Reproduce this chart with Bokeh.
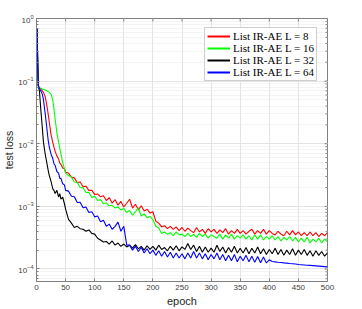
from bokeh.plotting import figure
from bokeh.models import Legend, LegendItem, FixedTicker, Range1d
from bokeh.embed import file_html
from bokeh.resources import INLINE

# ---- data -------------------------------------------------------------
epochs_early = [1, 2, 3, 5, 8, 10, 12, 15, 18, 20, 22, 25, 28, 30, 32, 35, 38, 40, 42, 45, 48, 50]
epochs_late = list(range(55, 505, 5))
epochs = epochs_early + epochs_late

labels = ["List IR-AE L = 8", "List IR-AE L = 16", "List IR-AE L = 32", "List IR-AE L = 64"]
colors = ["#ff0000", "#00ff00", "#000000", "#0000ff"]

loss_L8 = [0.7, 0.22, 0.085, 0.078, 0.074, 0.07, 0.066, 0.056, 0.04, 0.03, 0.022, 0.014, 0.0105,
           0.0088, 0.0076, 0.0064, 0.0057, 0.0049, 0.0047, 0.0041, 0.0040, 0.0035,
           3.4e-3, 2.9e-3, 2.85e-3, 2.4e-3, 2.45e-3, 2.05e-3, 2.1e-3, 1.8e-3, 1.8e-3, 1.55e-3,
           1.58e-3, 1.42e-3, 1.48e-3, 1.24e-3, 1.38e-3, 1.12e-3, 1.28e-3, 1.04e-3, 1.2e-3, 0.98e-3,
           1.12e-3, 1.3e-3, 0.94e-3, 1.08e-3, 0.88e-3, 1.02e-3, 0.84e-3, 0.9e-3, 0.78e-3, 0.82e-3,
           0.58e-3, 0.54e-3, 0.47e-3, 0.49e-3, 0.44e-3, 0.48e-3, 0.43e-3, 0.47e-3, 0.41e-3, 0.46e-3,
           0.40e-3, 0.45e-3, 0.41e-3, 0.38e-3, 0.46e-3, 0.39e-3, 0.43e-3, 0.37e-3, 0.44e-3, 0.39e-3,
           0.43e-3, 0.37e-3, 0.42e-3, 0.38e-3, 0.44e-3, 0.36e-3, 0.41e-3, 0.37e-3, 0.43e-3, 0.37e-3,
           0.41e-3, 0.36e-3, 0.40e-3, 0.43e-3, 0.36e-3, 0.41e-3, 0.37e-3, 0.43e-3, 0.36e-3, 0.41e-3,
           0.37e-3, 0.35e-3, 0.40e-3, 0.36e-3, 0.34e-3, 0.40e-3, 0.35e-3, 0.41e-3, 0.35e-3, 0.39e-3,
           0.34e-3, 0.38e-3, 0.34e-3, 0.39e-3, 0.34e-3, 0.38e-3, 0.33e-3, 0.37e-3, 0.34e-3, 0.38e-3]

loss_L16 = [0.7, 0.22, 0.085, 0.078, 0.076, 0.075, 0.074, 0.072, 0.07, 0.068, 0.066, 0.062, 0.05,
            0.036, 0.025, 0.015, 0.0105, 0.0085, 0.0068, 0.005, 0.004, 0.0034,
            3.1e-3, 2.95e-3, 2.45e-3, 2.4e-3, 2.0e-3, 1.98e-3, 1.66e-3, 1.68e-3, 1.38e-3, 1.45e-3,
            1.24e-3, 1.28e-3, 1.1e-3, 1.14e-3, 1.02e-3, 1.04e-3, 0.94e-3, 0.98e-3, 0.88e-3, 0.92e-3,
            0.8e-3, 0.86e-3, 0.72e-3, 0.82e-3, 0.95e-3, 0.7e-3, 0.76e-3, 0.66e-3, 0.69e-3, 0.61e-3,
            0.48e-3, 0.45e-3, 0.37e-3, 0.39e-3, 0.36e-3, 0.38e-3, 0.34e-3, 0.39e-3, 0.35e-3, 0.36e-3,
            0.33e-3, 0.37e-3, 0.33e-3, 0.36e-3, 0.32e-3, 0.37e-3, 0.33e-3, 0.36e-3, 0.31e-3, 0.35e-3,
            0.33e-3, 0.31e-3, 0.36e-3, 0.30e-3, 0.35e-3, 0.31e-3, 0.36e-3, 0.30e-3, 0.34e-3, 0.31e-3,
            0.35e-3, 0.30e-3, 0.34e-3, 0.29e-3, 0.35e-3, 0.30e-3, 0.35e-3, 0.29e-3, 0.33e-3, 0.30e-3,
            0.34e-3, 0.29e-3, 0.33e-3, 0.28e-3, 0.32e-3, 0.29e-3, 0.33e-3, 0.28e-3, 0.32e-3, 0.27e-3,
            0.31e-3, 0.27e-3, 0.32e-3, 0.26e-3, 0.30e-3, 0.27e-3, 0.31e-3, 0.26e-3, 0.30e-3, 0.27e-3]

loss_L32 = [0.7, 0.22, 0.085, 0.07, 0.03, 0.018, 0.0105, 0.0068, 0.0048, 0.0038, 0.0031, 0.0025,
            0.0019, 0.0018, 0.0016, 0.0018, 0.0014, 0.0016, 0.0013, 0.0014, 0.0011, 0.0009,
            6.2e-4, 5.4e-4, 4.6e-4, 4.8e-4, 4.4e-4, 4.3e-4, 4.0e-4, 4.2e-4, 3.7e-4, 3.6e-4,
            3.1e-4, 2.9e-4, 2.7e-4, 2.75e-4, 2.5e-4, 2.8e-4, 2.4e-4, 2.6e-4, 2.3e-4, 2.5e-4,
            2.25e-4, 2.4e-4, 2.15e-4, 2.45e-4, 2.1e-4, 2.3e-4, 2.0e-4, 2.35e-4, 2.05e-4, 2.3e-4,
            2.0e-4, 2.4e-4, 2.05e-4, 2.2e-4, 1.95e-4, 2.3e-4, 2.0e-4, 2.35e-4, 1.95e-4, 2.25e-4,
            2.05e-4, 2.55e-4, 2.05e-4, 2.4e-4, 1.9e-4, 2.3e-4, 1.85e-4, 2.25e-4, 1.85e-4, 2.15e-4,
            1.85e-4, 2.4e-4, 1.9e-4, 2.25e-4, 1.8e-4, 2.2e-4, 1.85e-4, 2.3e-4, 1.8e-4, 2.15e-4,
            1.8e-4, 2.2e-4, 1.75e-4, 2.15e-4, 1.8e-4, 2.25e-4, 1.75e-4, 2.1e-4, 1.7e-4, 2.05e-4,
            1.75e-4, 2.15e-4, 1.7e-4, 2.05e-4, 1.65e-4, 2.0e-4, 1.7e-4, 2.1e-4, 1.65e-4, 2.0e-4,
            1.7e-4, 2.05e-4, 1.65e-4, 1.95e-4, 1.6e-4, 1.95e-4, 1.65e-4, 1.9e-4, 1.6e-4, 1.8e-4]

loss_L64 = [0.7, 0.22, 0.085, 0.076, 0.068, 0.062, 0.05, 0.03, 0.017, 0.0115, 0.0088, 0.0068,
            0.0058, 0.0048, 0.0045, 0.0036, 0.0034, 0.0028, 0.0028, 0.0023, 0.0022, 0.0018,
            1.75e-3, 1.45e-3, 1.42e-3, 1.15e-3, 1.16e-3, 0.95e-3, 0.98e-3, 0.8e-3, 0.82e-3, 0.68e-3,
            0.7e-3, 0.57e-3, 0.6e-3, 0.48e-3, 0.52e-3, 0.43e-3, 0.48e-3, 0.56e-3, 0.4e-3, 0.48e-3,
            0.24e-3, 0.24e-3, 0.2e-3, 0.23e-3, 0.19e-3, 0.22e-3, 0.18e-3, 0.21e-3, 0.175e-3, 0.2e-3,
            0.165e-3, 0.195e-3, 0.16e-3, 0.19e-3, 0.155e-3, 0.185e-3, 0.15e-3, 0.18e-3, 0.15e-3, 0.175e-3,
            0.145e-3, 0.18e-3, 0.15e-3, 0.19e-3, 0.15e-3, 0.18e-3, 0.145e-3, 0.175e-3, 0.14e-3, 0.17e-3,
            0.145e-3, 0.18e-3, 0.14e-3, 0.17e-3, 0.135e-3, 0.165e-3, 0.135e-3, 0.17e-3, 0.13e-3, 0.16e-3,
            0.135e-3, 0.165e-3, 0.13e-3, 0.16e-3, 0.128e-3, 0.158e-3, 0.126e-3, 0.155e-3, 0.125e-3, 0.14e-3,
            0.132e-3, 0.13e-3, 0.128e-3, 0.127e-3, 0.125e-3, 0.124e-3, 0.122e-3, 0.121e-3, 0.12e-3, 0.118e-3,
            0.117e-3, 0.116e-3, 0.115e-3, 0.114e-3, 0.113e-3, 0.112e-3, 0.111e-3, 0.11e-3, 0.109e-3, 0.108e-3]

series = [loss_L8, loss_L16, loss_L32, loss_L64]

x_ticks = [0, 50, 100, 150, 200, 250, 300, 350, 400, 450, 500]
y_decades = [1e-4, 1e-3, 1e-2, 1e-1, 1e0]

# ---- figure -----------------------------------------------------------
AX = "#808080"
FONT = "Liberation Sans"
Y_LO, Y_HI = 10 ** -4.2, 1.0
W, H = 346, 309
BL, BR, BT, BB = 34, 19, 18, 27
FW, FH = W - BL - BR, H - BT - BB

p = figure(width=W, height=H, y_axis_type="log",
           x_range=Range1d(0, 500), y_range=Range1d(Y_LO, Y_HI),
           output_backend="svg", toolbar_location=None,
           min_border_left=BL, min_border_top=BT, min_border_right=BR, min_border_bottom=BB,
           background_fill_color="white", border_fill_color="white")

p.outline_line_color = AX
p.outline_line_width = 1

for ax in (p.xaxis[0], p.yaxis[0]):
    ax.axis_line_color = AX
    ax.major_tick_line_color = AX
    ax.minor_tick_line_color = AX
    ax.major_tick_in = 3
    ax.major_tick_out = 0
    ax.minor_tick_in = 2
    ax.minor_tick_out = 0
    ax.major_label_text_font = FONT
    ax.major_label_text_font_size = "8px"
    ax.major_label_text_color = "#404040"
    ax.axis_label_text_font = FONT
    ax.axis_label_text_font_size = "11px"
    ax.axis_label_text_font_style = "normal"
    ax.axis_label_text_color = "#262626"

p.xaxis[0].ticker = FixedTicker(ticks=x_ticks)
p.xaxis[0].axis_label = "epoch"
p.xaxis[0].major_label_standoff = 3
p.xaxis[0].axis_label_standoff = 2
p.yaxis[0].axis_label = "test loss"
p.yaxis[0].axis_label_text_font_size = "10.5px"
p.yaxis[0].major_label_standoff = 3
p.yaxis[0].axis_label_standoff = 0

p.xgrid.ticker = FixedTicker(ticks=x_ticks)
p.xgrid.grid_line_color = "#e3e3e3"
p.ygrid.grid_line_color = "#e3e3e3"
p.ygrid.minor_grid_line_color = "#e8e8e8"
p.ygrid.minor_grid_line_dash = "1 1"

# inward ticks on the right and top edges of the box
tick_dx = 500.0 * 3 / FW
decade_px = FH / 4.2
top_factor = 10 ** (-3.0 / decade_px)
minor_y = [m * d for d in [1e-5, 1e-4, 1e-3, 1e-2, 1e-1] for m in range(2, 10) if Y_LO < m * d < Y_HI]
p.segment(x0=[500] * len(y_decades), x1=[500 - tick_dx] * len(y_decades),
          y0=y_decades, y1=y_decades, line_color=AX, line_width=1)
p.segment(x0=[500] * len(minor_y), x1=[500 - tick_dx * 2 / 3] * len(minor_y),
          y0=minor_y, y1=minor_y, line_color=AX, line_width=1)
p.segment(x0=x_ticks, x1=x_ticks, y0=[Y_HI] * len(x_ticks), y1=[Y_HI * top_factor] * len(x_ticks),
          line_color=AX, line_width=1)

for lab, col, ys in zip(labels, colors, series):
    p.line(epochs, ys, line_color=col, line_width=1.1)

items = []
for lab, col in zip(labels, colors):
    dummy = p.line([-100, -99], [1e-6, 1e-6], line_color=col, line_width=2)
    items.append(LegendItem(label=lab, renderers=[dummy]))

leg = Legend(items=items, location=(168, FH - 12 - 52), orientation="vertical",
             label_text_font="Liberation Serif", label_text_font_size="11px",
             label_text_color="#000000",
             label_height=12, glyph_height=12, glyph_width=23, label_standoff=3,
             spacing=0, padding=2, margin=0,
             border_line_color="#a0a0a0", border_line_width=1,
             background_fill_color="white", background_fill_alpha=1.0)
p.add_layout(leg, "center")

open("out.html", "w").write(file_html(p, INLINE))
